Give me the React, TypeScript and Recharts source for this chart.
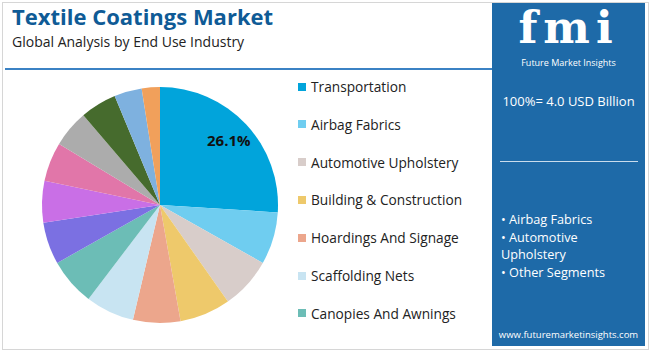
import { PieChart, Pie, Cell } from 'recharts';

const segments = [
  'Transportation',
  'Airbag Fabrics',
  'Automotive Upholstery',
  'Building & Construction',
  'Hoardings And Signage',
  'Scaffolding Nets',
  'Canopies And Awnings',
  'Protective Clothing',
  'Furniture',
  'Industrial Fabrics',
  'Agriculture',
  'Medical',
  'Sportswear',
  'Others',
];
const shares = [26.1, 7.2, 7.1, 7.0, 6.5, 6.7, 6.5, 5.8, 5.7, 5.4, 5.1, 5.0, 3.8, 2.5];
const colors = [
  '#01a4db', '#6fcdf0', '#d8cdca', '#eec96b', '#eca68c', '#c8e4f2', '#6cbdb6',
  '#7b70e2', '#c96fe6', '#e176a9', '#acacac', '#466b2d', '#7eb1df', '#f1a05b',
];
const legendCount = 7;
const bullets = ['• Airbag Fabrics', '• Automotive', 'Upholstery', '• Other Segments'];

const font = '"Open Sans", sans-serif';

const data = segments.map((name, i) => ({ name, value: shares[i] }));

const RADIAN = Math.PI / 180;

function renderLabel(props: any) {
  const { cx, cy, midAngle, outerRadius, index, value } = props;
  if (index !== 0) return null;
  const r = outerRadius * 0.8;
  const x = cx + r * Math.cos(-midAngle * RADIAN);
  const y = cy + r * Math.sin(-midAngle * RADIAN);
  return (
    <text x={x} y={y} textAnchor="middle" dominantBaseline="central" fill="#111" fontSize={15} fontWeight={700} fontFamily={font}>
      {value.toFixed(1)}%
    </text>
  );
}

export default function App() {
  return (
    <div style={{ position: 'absolute', left: 0, top: 0, width: 650, height: 351, background: '#fff', fontFamily: font, overflow: 'hidden' }}>
      <div style={{ position: 'absolute', left: 2, top: 2, width: 645, height: 346, border: '1px solid #d6d6d6' }} />
      <div style={{ position: 'absolute', left: 12, top: 4, fontSize: 22, lineHeight: '24px', fontWeight: 700, color: '#0f5b96', whiteSpace: 'nowrap' }}>
        Textile Coatings Market
      </div>
      <div style={{ position: 'absolute', left: 12, top: 33, fontSize: 14, lineHeight: '17px', color: '#222', whiteSpace: 'nowrap' }}>
        Global Analysis by End Use Industry
      </div>
      <div style={{ position: 'absolute', left: 5, top: 68, width: 487, height: 2, background: '#3b82c4' }} />

      <div style={{ position: 'absolute', left: 0, top: 0 }}>
        <PieChart width={300} height={351} margin={{ top: 0, right: 0, bottom: 0, left: 0 }}>
          <Pie
            data={data}
            dataKey="value"
            nameKey="name"
            cx={160}
            cy={205}
            outerRadius={118}
            startAngle={90}
            endAngle={-270}
            stroke="none"
            label={renderLabel}
            labelLine={false}
            isAnimationActive={false}
          >
            {data.map((d, i) => (
              <Cell key={d.name} fill={colors[i]} />
            ))}
          </Pie>
        </PieChart>
      </div>

      {segments.slice(0, legendCount).map((name, i) => (
        <div key={name} style={{ position: 'absolute', left: 298, top: 77 + i * 37.8, display: 'flex', alignItems: 'center', whiteSpace: 'nowrap' }}>
          <span style={{ width: 8, height: 8, background: colors[i], marginRight: 5, display: 'inline-block' }} />
          <span style={{ fontSize: 13.7, color: '#222' }}>{name}</span>
        </div>
      ))}

      <div style={{ position: 'absolute', left: 492, top: 3, width: 153, height: 343, background: '#1e6aa8', color: '#fff' }}>
        <div style={{ position: 'absolute', left: 0, width: 153, top: 2, textAlign: 'center', fontSize: 44, fontWeight: 800, letterSpacing: 6, lineHeight: '46px', fontFamily: '"DejaVu Serif", serif' }}>
          fmi
        </div>
        <div style={{ position: 'absolute', left: 0, width: 153, top: 54, textAlign: 'center', fontSize: 9, lineHeight: '11px' }}>
          Future Market Insights
        </div>
        <div style={{ position: 'absolute', left: 0, width: 153, top: 89, textAlign: 'center', fontSize: 13, whiteSpace: 'nowrap' }}>
          100%= 4.0 USD Billion
        </div>
        <div style={{ position: 'absolute', left: 8, top: 158, width: 138, height: 1, background: '#c9dced' }} />
        {bullets.map((b, i) => (
          <div key={b} style={{ position: 'absolute', left: 9, top: 207 + i * 17.6, fontSize: 12.7, whiteSpace: 'nowrap' }}>
            {b}
          </div>
        ))}
        <div style={{ position: 'absolute', left: 0, width: 153, top: 325, textAlign: 'center', fontSize: 9.5 }}>
          www.futuremarketinsights.com
        </div>
      </div>
    </div>
  );
}
